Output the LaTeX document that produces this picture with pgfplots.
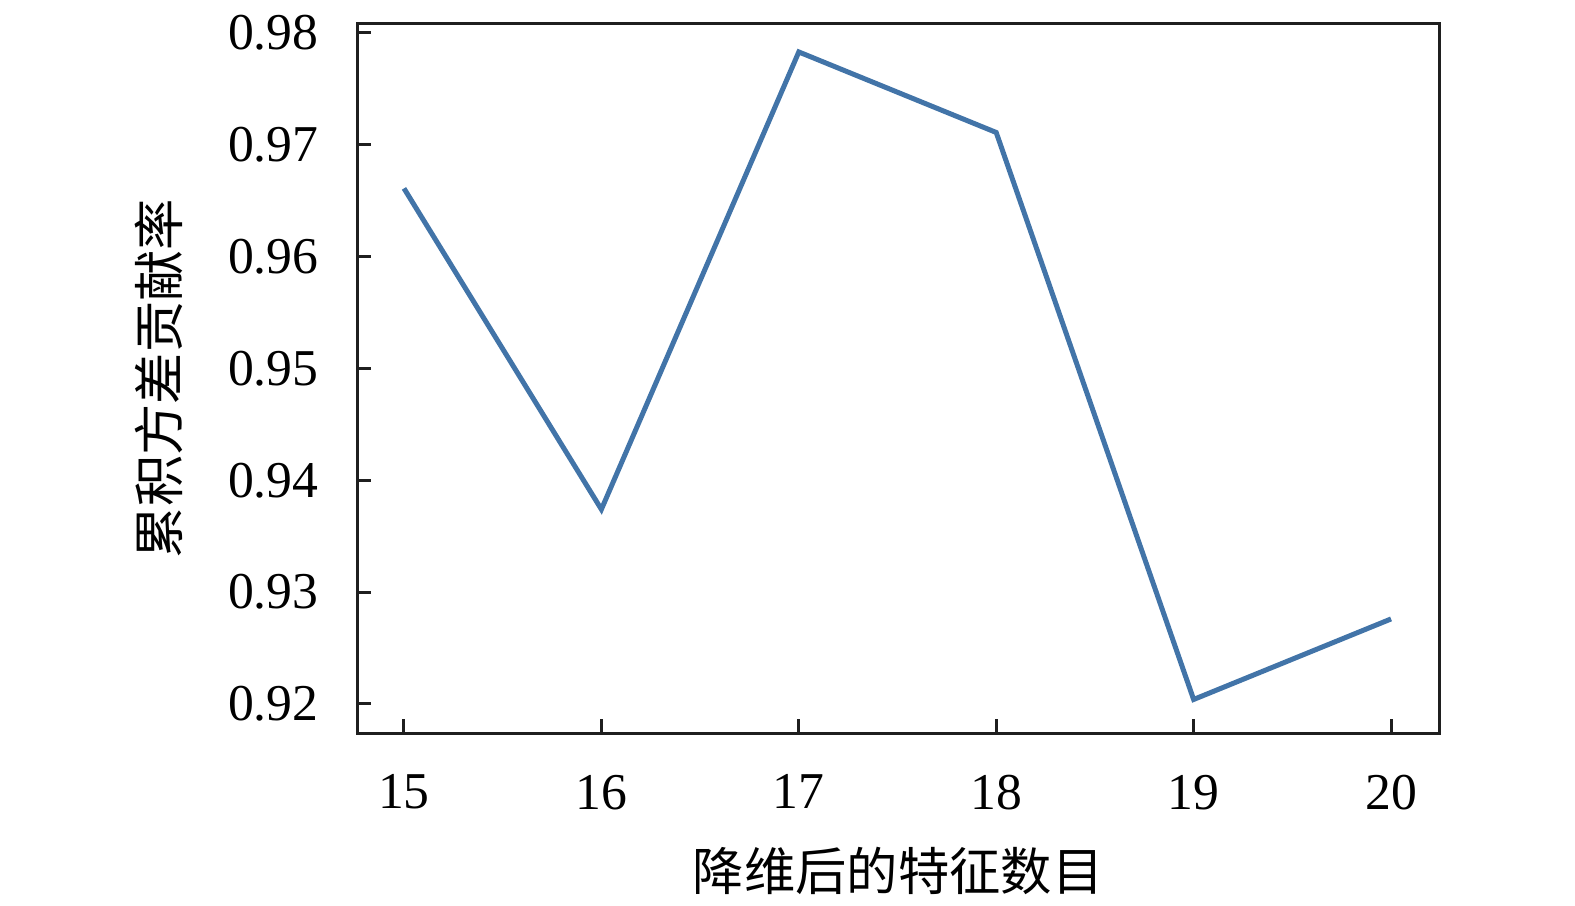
\documentclass[border=0pt]{standalone}
\usepackage{fontspec}
\setmainfont{Liberation Serif}
\newfontfamily\cjk{Noto Sans CJK SC}
\usepackage{pgfplots}
\pgfplotsset{compat=1.18}
\definecolor{lineblue}{RGB}{66,116,168}
\begin{document}
\begin{tikzpicture}
\begin{axis}[
  scale only axis,
  width=324.6pt, height=212.7pt,
  xmin=14.762, xmax=20.243,
  ymin=0.9174, ymax=0.9808,
  xtick={15,16,17,18,19,20},
  ytick={0.92,0.93,0.94,0.95,0.96,0.97,0.98},
  yticklabels={0.92,0.93,0.94,0.95,0.96,0.97,0.98},
  tick align=inside,
  xtick pos=bottom, ytick pos=left,
  major tick length=4.2pt,
  axis line style={line width=0.9pt, black!88},
  every tick/.style={line width=0.9pt, black!88},
  tick label style={font=\fontsize{15.5}{18}\selectfont},
  /pgf/number format/assume math mode=true,
  yticklabel style={xshift=-8pt},
  xticklabel style={yshift=-9pt},
  xlabel={\cjk 降维后的特征数目},
  ylabel={\cjk 累积方差贡献率},
  label style={font=\fontsize{15.4}{18}\selectfont},
  x label style={at={(axis description cs:0.5,0)}, anchor=center, yshift=-41.4pt},
  y label style={at={(axis description cs:0,0.5)}, anchor=center, yshift=59.4pt},
]
\addplot[lineblue, line width=1.5pt] coordinates {
  (15,0.9661) (16,0.9374) (17,0.9783) (18,0.9711) (19,0.9204) (20,0.9276)
};
\end{axis}
\path[use as bounding box] ([xshift=-107.1pt,yshift=-51.3pt]current axis.south west) rectangle ([xshift=40.8pt,yshift=7.2pt]current axis.north east);
\end{tikzpicture}
\end{document}
